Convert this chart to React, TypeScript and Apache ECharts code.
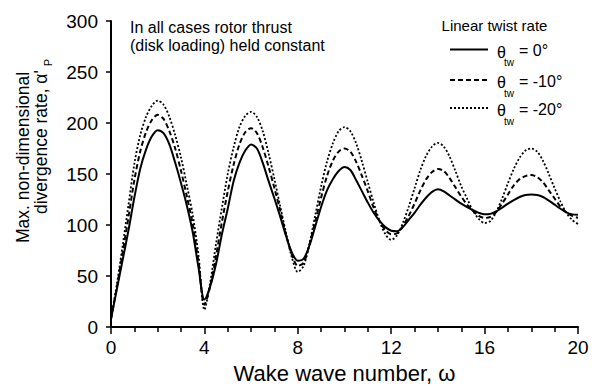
import React, { useEffect, useRef } from "react";
import * as echarts from "echarts";

const waveNumbers = [
  0, 0.25, 0.5, 0.75, 1, 1.25, 1.5, 1.75, 2, 2.25, 2.5, 2.75, 3, 3.25, 3.5, 3.75,
  4, 4.25, 4.5, 4.75, 5, 5.25, 5.5, 5.75, 6, 6.25, 6.5, 6.75, 7, 7.25, 7.5, 7.75,
  8, 8.25, 8.5, 8.75, 9, 9.25, 9.5, 9.75, 10, 10.25, 10.5, 10.75, 11, 11.25, 11.5, 11.75,
  12, 12.25, 12.5, 12.75, 13, 13.25, 13.5, 13.75, 14, 14.25, 14.5, 14.75, 15, 15.25, 15.5, 15.75,
  16, 16.25, 16.5, 16.75, 17, 17.25, 17.5, 17.75, 18, 18.25, 18.5, 18.75, 19, 19.25, 19.5, 19.75,
  20,
];

// theta_tw = 0 deg (solid)
const rateTw0 = [
  8, 37, 66, 95, 127, 155, 174, 187, 193, 190, 179, 161, 141, 119, 93, 58,
  27, 40, 62, 91, 116, 143, 161, 173, 179, 175, 161, 143, 126, 108, 89, 73,
  65, 67, 80, 99, 118, 134, 145, 153, 157, 154, 144, 133, 122, 112, 104, 98,
  94.5, 94, 98, 105, 112, 120, 127, 132.5, 135, 133, 129, 125, 121, 117.5, 114.5, 112,
  110.5, 111, 113.5, 117, 121, 124.5, 127.5, 129.5, 130, 129.5, 127.5, 124, 120, 116, 112.5, 110.5,
  110,
];

// theta_tw = -10 deg (dashed)
const rateTw10 = [
  8, 39, 73, 108, 144, 172, 191, 203, 208, 204, 192, 175, 153, 128, 101, 63,
  22, 40, 70, 103, 133, 159, 179, 191, 195, 190, 176, 157, 136, 114, 90, 71,
  60, 63, 81, 104, 127, 148, 163, 172, 175, 172, 162, 148, 133, 117, 104, 95,
  91, 92, 99, 109, 121, 134, 145, 152, 155, 153, 146, 137, 128, 120, 114, 109,
  107, 108, 113, 121, 130, 139, 145, 148, 149, 147, 142, 134, 126, 118, 112.5, 109,
  107,
];

// theta_tw = -20 deg (dotted)
const rateTw20 = [
  8, 42, 80, 120, 160, 188, 206, 217, 222, 218, 206, 188, 166, 139, 110, 70,
  17, 44, 82, 117, 150, 176, 196, 207, 211, 206, 192, 170, 145, 118, 92, 68,
  54, 60, 82, 110, 138, 162, 180, 192, 196, 192, 180, 162, 142, 122, 104, 91,
  85.5, 90, 102, 118, 136, 154, 168, 177, 180.5, 177, 167, 153, 138, 126, 114, 106,
  102, 104, 113, 126, 141, 155, 166, 173, 175, 172, 163, 150, 136, 123, 112, 105,
  101,
];

const seriesNames = ["θtw = 0°", "θtw = -10°", "θtw = -20°"];
const legendValues = ["= 0°", "= -10°", "= -20°"];
const legendTitle = "Linear twist rate";
const noteLines = ["In all cases rotor thrust", "(disk loading) held constant"];
const xAxisTitle = "Wake wave number, ω";
const yAxisTitleLine1 = "Max. non-dimensional";
const yAxisTitleLine2 = "divergence rate, α'";
const yAxisTitleSub = "P";

const FONT = "'Liberation Sans', Arial, Helvetica, sans-serif";

function measure(text: string, size: number): number {
  const c = document.createElement("canvas").getContext("2d");
  if (!c) return text.length * size * 0.5;
  c.font = `${size}px 'Liberation Sans', Arial, sans-serif`;
  return c.measureText(text).width;
}

export default function App() {
  const ref = useRef<HTMLDivElement>(null);
  useEffect(() => {
    if (!ref.current) return;
    const chart = echarts.init(ref.current, null, { renderer: "svg" });

    const pairs = (ys: number[]) => waveNumbers.map((x, i) => [x, ys[i]]);
    const dashes: any[] = ["solid", [5, 3], [2, 2]];
    const allSeries = [rateTw0, rateTw10, rateTw20];

    // y-axis title (rotated) — local coords: lx = -screenY, ly = screenX
    const yNameSize = 17.5;
    const line2Start = 214;
    const line2W = measure(yAxisTitleLine2, yNameSize);

    const legendRowsY = [49.5, 80, 108];

    const graphic: any[] = [
      {
        type: "group",
        x: 0,
        y: 0,
        rotation: Math.PI / 2,
        children: [
          {
            type: "text",
            x: -157.5,
            y: 23,
            style: {
              text: yAxisTitleLine1,
              font: `${yNameSize}px ${FONT}`,
              fill: "#000",
              align: "center",
              verticalAlign: "middle",
            },
          },
          {
            type: "text",
            x: -line2Start,
            y: 41,
            style: {
              text: yAxisTitleLine2,
              font: `${yNameSize}px ${FONT}`,
              fill: "#000",
              align: "left",
              verticalAlign: "middle",
            },
          },
          {
            type: "text",
            x: -line2Start + line2W + 4,
            y: 48,
            style: {
              text: yAxisTitleSub,
              font: `11px ${FONT}`,
              fill: "#000",
              align: "left",
              verticalAlign: "middle",
            },
          },
        ],
      },
      {
        type: "text",
        x: 130,
        y: 27,
        style: { text: noteLines[0], font: `16px ${FONT}`, fill: "#000", align: "left", verticalAlign: "middle" },
      },
      {
        type: "text",
        x: 130,
        y: 45,
        style: { text: noteLines[1], font: `16px ${FONT}`, fill: "#000", align: "left", verticalAlign: "middle" },
      },
      {
        type: "text",
        x: 494.5,
        y: 25,
        style: { text: legendTitle, font: `15px ${FONT}`, fill: "#000", align: "center", verticalAlign: "middle" },
      },
    ];

    legendRowsY.forEach((ly, i) => {
      graphic.push({
        type: "line",
        shape: { x1: 450, y1: ly, x2: 488, y2: ly },
        style: { stroke: "#000", lineWidth: 2, lineDash: i === 0 ? null : dashes[i] },
      });
      graphic.push({
        type: "text",
        x: 497,
        y: ly + 2.5,
        style: { text: "θ", font: `16px ${FONT}`, fill: "#000", align: "left", verticalAlign: "middle" },
      });
      graphic.push({
        type: "text",
        x: 504,
        y: ly + 13,
        style: { text: "tw", font: `10px ${FONT}`, fill: "#000", align: "left", verticalAlign: "middle" },
      });
      graphic.push({
        type: "text",
        x: 519,
        y: ly + 1,
        style: { text: legendValues[i], font: `16px ${FONT}`, fill: "#000", align: "left", verticalAlign: "middle" },
      });
    });

    chart.setOption({
      animation: false,
      backgroundColor: "#fff",
      textStyle: { fontFamily: FONT },
      grid: { left: 111, right: 15, top: 21, bottom: 57, containLabel: false },
      xAxis: {
        type: "value",
        min: 0,
        max: 20,
        interval: 4,
        name: xAxisTitle,
        nameLocation: "middle",
        nameGap: 31,
        nameTextStyle: { fontSize: 22, color: "#000", fontFamily: FONT },
        axisLine: { show: true, onZero: false, lineStyle: { color: "#000", width: 2 } },
        axisTick: { show: true, inside: false, length: 7, lineStyle: { color: "#000", width: 1.5 } },
        minorTick: { show: true, splitNumber: 4, length: 5, lineStyle: { color: "#000", width: 1.5 } },
        axisLabel: { fontSize: 19, color: "#000", margin: 11, fontFamily: FONT },
        splitLine: { show: false },
      },
      yAxis: {
        type: "value",
        min: 0,
        max: 300,
        interval: 50,
        axisLine: { show: true, onZero: false, lineStyle: { color: "#000", width: 2 } },
        axisTick: { show: true, inside: false, length: 5, lineStyle: { color: "#000", width: 1.5 } },
        axisLabel: { fontSize: 19, color: "#000", margin: 13, fontFamily: FONT },
        splitLine: { show: false },
      },
      graphic,
      series: allSeries.map((ys, i) => ({
        name: seriesNames[i],
        type: "line",
        data: pairs(ys),
        showSymbol: false,
        symbol: "none",
        smooth: 0.3,
        lineStyle: { color: "#000", width: i === 2 ? 1.8 : 2, type: dashes[i] },
        z: 3 - i,
      })),
    });

    return () => chart.dispose();
  }, []);

  return <div ref={ref} style={{ position: "fixed", left: 0, top: 0, width: 593, height: 389 }} />;
}
